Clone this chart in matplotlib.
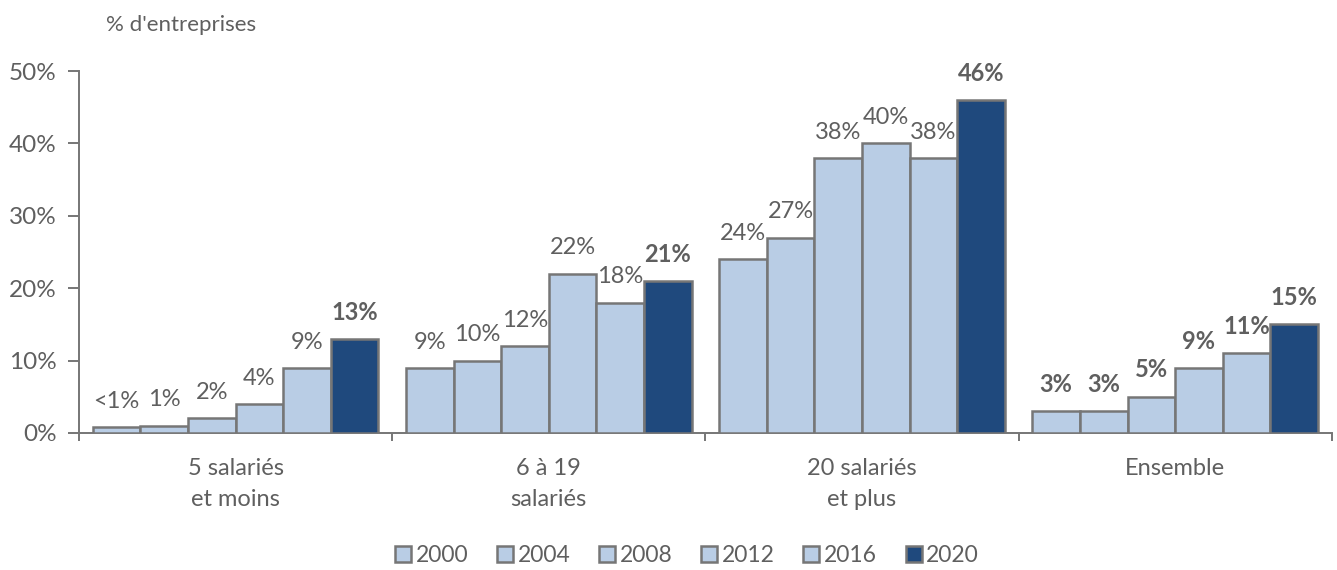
import numpy as np
import matplotlib
matplotlib.use("Agg")
import matplotlib.pyplot as plt
from matplotlib.patches import Patch

plt.rcParams['font.family'] = ['Lato', 'DejaVu Sans']

# data
groups = ["5 salariés\net moins", "6 à 19\nsalariés", "20 salariés\net plus", "Ensemble"]
years = ["2000", "2004", "2008", "2012", "2016", "2020"]
values = [
    [0.8, 1, 2, 4, 9, 13],
    [9, 10, 12, 22, 18, 21],
    [24, 27, 38, 40, 38, 46],
    [3, 3, 5, 9, 11, 15],
]
labels = [
    ["<1%", "1%", "2%", "4%", "9%", "13%"],
    ["9%", "10%", "12%", "22%", "18%", "21%"],
    ["24%", "27%", "38%", "40%", "38%", "46%"],
    ["3%", "3%", "5%", "9%", "11%", "15%"],
]

light = "#B9CDE5"
dark = "#1F497D"
edge = "#767676"
txt = "#5f5f5f"

fig = plt.figure(figsize=(13.37, 5.70), dpi=100)
ax = fig.add_axes([0.0591, 0.2404, 0.937, 0.635])

w = 0.152
x = np.arange(len(groups))
for j, yr in enumerate(years):
    vals = [v[j] for v in values]
    col = dark if j == 5 else light
    bars = ax.bar(x + (j - 2.5) * w, vals, width=w, color=col, edgecolor=edge,
                  linewidth=1.8, label=yr, zorder=3)
    for i, b in enumerate(bars):
        bold = (j == 5) or (i == 3)
        ax.annotate(labels[i][j], (b.get_x() + b.get_width() / 2, b.get_height()),
                    xytext=(0, 11), textcoords="offset points", ha="center", va="bottom",
                    fontsize=17, fontweight="bold" if bold else "normal",
                    color=txt)

ax.set_xlim(-0.5, 3.5)
ax.set_ylim(0, 50)
ax.set_yticks(range(0, 51, 10))
ax.set_yticklabels([f"{t}%" for t in range(0, 51, 10)], fontsize=17.5, color=txt)
ax.set_xticks(x)
ax.set_xticklabels(groups, fontsize=17, color=txt, linespacing=1.6)
ax.tick_params(axis="x", length=0, pad=18)
ax.set_xticks(np.arange(-0.5, 3.6, 1), minor=True)
ax.tick_params(axis="x", which="minor", length=6, color=edge, width=1.4, direction="out")
ax.tick_params(axis="y", length=8, color=edge, width=1.4, pad=8)

for s in ["top", "right"]:
    ax.spines[s].set_visible(False)
for s in ["left", "bottom"]:
    ax.spines[s].set_color(edge)
    ax.spines[s].set_linewidth(1.4)

fig.text(0.079, 0.957, "% d'entreprises", fontsize=16, color=txt, va="center")

handles = [Patch(facecolor=dark if j == 5 else light, edgecolor=edge, linewidth=1.8, label=yr)
           for j, yr in enumerate(years)]
fig.legend(handles=handles, loc="center", bbox_to_anchor=(0.514, 0.025), ncol=6, frameon=False,
           fontsize=16.5, handlelength=0.7, handleheight=0.7, handletextpad=0.2,
           columnspacing=1.25, labelcolor=txt)

fig.savefig("out.png", dpi=100)
